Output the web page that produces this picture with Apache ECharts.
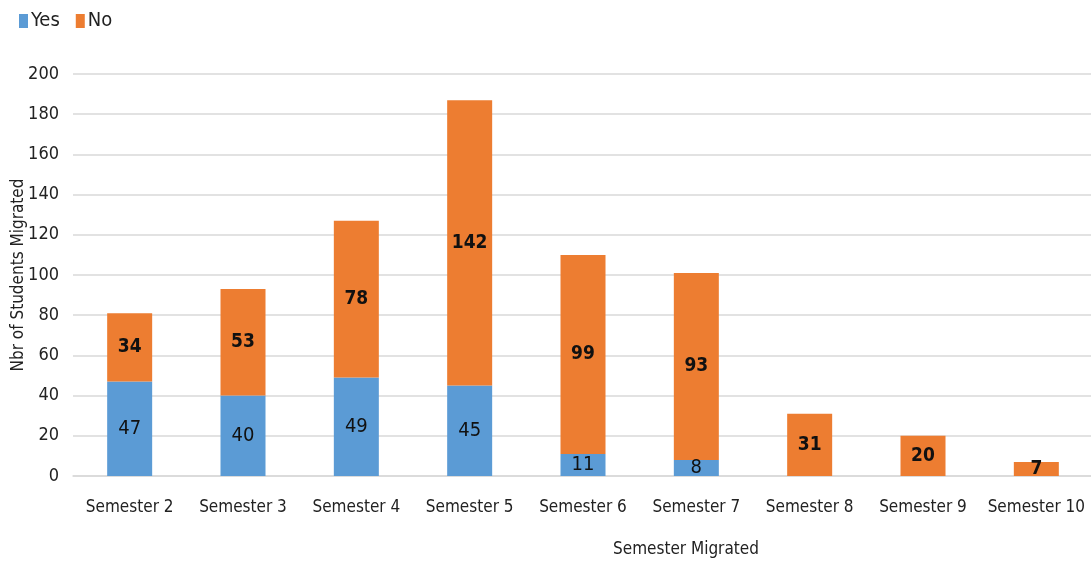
<!DOCTYPE html>
<html>
<head>
<meta charset="utf-8">
<script src="https://cdn.jsdelivr.net/npm/echarts@6/dist/echarts.min.js"></script>
<style>html,body{margin:0;padding:0;background:#fff}#c{width:1091px;height:569px}</style>
</head>
<body>
<div id="c"></div>
<script>
const categories = ['Semester 2','Semester 3','Semester 4','Semester 5','Semester 6','Semester 7','Semester 8','Semester 9','Semester 10'];
const yesValues = [47, 40, 49, 45, 11, 8, 0, 0, 0];
const noValues = [34, 53, 78, 142, 99, 93, 31, 20, 7];
const yTicks = [0, 20, 40, 60, 80, 100, 120, 140, 160, 180, 200];

const FONT = '"Liberation Sans Narrow", "DejaVu Sans Condensed", sans-serif';
const chart = echarts.init(document.getElementById('c'), null, {renderer: 'canvas'});
chart.setOption({
  animation: false,
  textStyle: {fontFamily: FONT},
  legend: {
    left: 14, top: 6, itemWidth: 9, itemHeight: 14, itemGap: 16,
    icon: 'rect',
    textStyle: {fontFamily: FONT, fontSize: 20, color: '#222', padding: [0,0,0,-2]},
    data: ['Yes', 'No']
  },
  grid: {left: 73, right: -2, top: 74, bottom: 93, outerBoundsMode: 'none', containLabel: false},
  xAxis: {
    type: 'category', data: categories,
    axisLine: {show: true, lineStyle: {color: '#d9d9d9', width: 1.5}},
    axisTick: {show: false},
    axisLabel: {fontFamily: FONT, fontSize: 17, color: '#222', margin: 23, interval: 0}
  },
  yAxis: {
    type: 'value', min: yTicks[0], max: yTicks[yTicks.length-1], interval: 20,
    name: 'Nbr of Students Migrated', nameLocation: 'middle', nameGap: 46,
    nameMoveOverlap: false,
    nameTextStyle: {fontFamily: FONT, fontSize: 17, color: '#222'},
    axisLine: {show: false}, axisTick: {show: false},
    axisLabel: {fontFamily: FONT, fontSize: 18, color: '#222', margin: 14},
    splitLine: {lineStyle: {color: '#d9d9d9', width: 1.5}}
  },
  graphic: [{
    type: 'text', left: 613, top: 541,
    style: {text: 'Semester Migrated', font: '17px ' + FONT, fill: '#222'}
  }],
  series: [
    {
      name: 'Yes', type: 'bar', stack: 'a', barWidth: 45,
      itemStyle: {color: '#5B9BD5'},
      data: yesValues,
      label: {show: true, position: 'inside', fontFamily: FONT, fontSize: 20, color: '#111',
        formatter: p => p.value ? p.value : ''}
    },
    {
      name: 'No', type: 'bar', stack: 'a', barWidth: 45,
      itemStyle: {color: '#ED7D31'},
      data: noValues,
      label: {show: true, position: 'inside', fontFamily: FONT, fontSize: 19, fontWeight: 'bold', color: '#111'}
    }
  ]
});
</script>
</body>
</html>
